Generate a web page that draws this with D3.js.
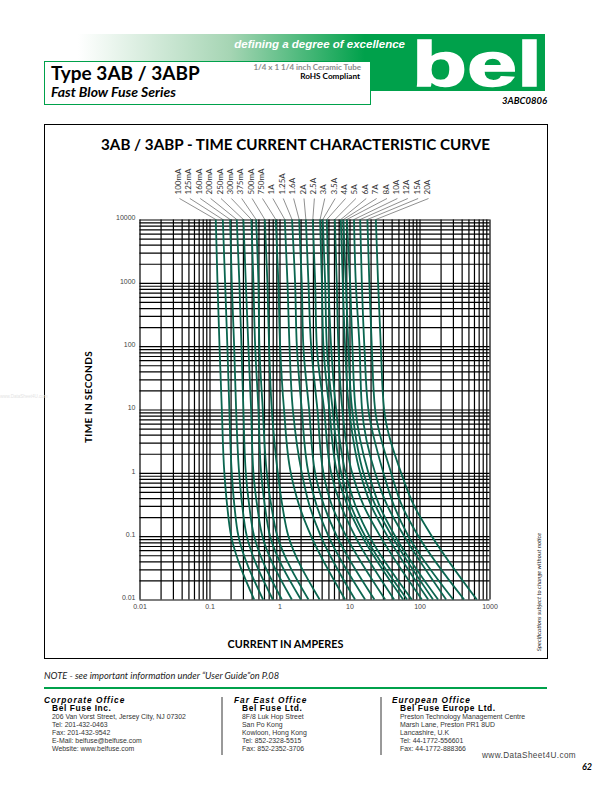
<!DOCTYPE html>
<html>
<head>
<meta charset="utf-8">
<script src="https://cdn.jsdelivr.net/npm/d3@7"></script>
<style>
  html, body { margin: 0; padding: 0; background: #fff; }
  svg { display: block; }
  text { font-family: Lato, "Open Sans", sans-serif; }
  .arial { font-family: "Liberation Sans", Arial, sans-serif; }
</style>
</head>
<body>
<div id="page"></div>
<script>
// fuse ratings, in the order they are labelled above the chart
var ratings = ["100mA","125mA","160mA","200mA","250mA","300mA","375mA","500mA","750mA","1A","1.25A","1.6A","2A","2.5A","3A","3.5A","4A","5A","6A","7A","8A","10A","12A","15A","20A"];

// blow times in seconds that the curves were read at
var times = [10000, 1000, 100, 10, 1, 0.3, 0.1, 0.01];

// current in amperes for each rating at those times
var at10000s = [0.123,0.155,0.197,0.245,0.305,0.397,0.463,0.617,0.885,1.19,1.51,1.91,2.38,2.99,3.80,4.15,4.74,6.17,7.51,8.18,9.15,11.6,14.2,18.0,23.8];
var at1000s  = [0.130,0.167,0.208,0.267,0.330,0.424,0.500,0.672,0.964,1.30,1.67,2.08,2.59,3.23,4.03,4.49,5.00,6.58,8.02,8.85,10.2,12.3,15.0,19.2,25.6];
var at100s   = [0.139,0.180,0.225,0.286,0.359,0.449,0.516,0.710,1.02,1.39,1.77,2.19,2.83,3.41,4.24,4.74,5.46,6.94,8.65,9.64,11.0,13.9,16.3,20.8,28.0];
var at10s    = [0.150,0.192,0.240,0.305,0.393,0.500,0.577,0.776,1.16,1.55,2.08,2.65,3.48,4.34,5.16,5.74,6.44,7.91,9.87,10.9,12.2,15.1,18.6,23.2,31.2];
var at1s     = [0.163,0.208,0.265,0.330,0.424,0.546,0.658,0.945,1.45,2.08,2.59,3.23,4.24,5.46,6.65,7.59,8.80,10.9,14.2,15.8,18.6,23.2,30.5,39.3,54.6];
var at03s    = [0.179,0.227,0.294,0.370,0.480,0.618,0.764,1.10,1.92,2.69,3.41,4.35,5.64,7.59,9.39,10.5,12.2,16.0,20.5,23.6,26.9,34.8,43.3,56.4,84.0];
var at01s    = [0.204,0.259,0.341,0.434,0.569,0.734,0.933,1.34,2.83,3.89,5.00,6.58,8.95,12.0,15.1,16.7,19.2,27.4,34.8,40.3,44.9,60.4,69.4,96.4,150];
var at001s   = [0.434,0.582,0.802,1.08,1.50,2.02,2.59,3.74,8.65,12.0,16.7,22.7,32.3,43.4,58.3,66.5,77.6,108,133,156,184,240,303,434,658];

var xTickValues = [0.01, 0.1, 1, 10, 100, 1000];
var yTickValues = [0.01, 0.1, 1, 10, 100, 1000, 10000];

var footerOffices = [
  { x: 44, textX: 52, head: "Corporate Office", name: "Bel Fuse Inc.", rows: ["206 Van Vorst Street, Jersey City, NJ 07302","Tel: 201-432-0463","Fax: 201-432-9542","E-Mail: belfuse@belfuse.com","Website: www.belfuse.com"] },
  { x: 234, textX: 242, head: "Far East Office", name: "Bel Fuse Ltd.", rows: ["8F/8 Luk Hop Street","San Po Kong","Kowloon, Hong Kong","Tel: 852-2328-5515","Fax: 852-2352-3706"] },
  { x: 392, textX: 400, head: "European Office", name: "Bel Fuse Europe Ltd.", rows: ["Preston Technology Management Centre","Marsh Lane, Preston PR1 8UD","Lancashire, U.K","Tel: 44-1772-556601","Fax: 44-1772-888366"] }
];

var green = "#00a14b";
var curveColor = "#0b6650";

var svgWidth = 612;
var svgHeight = 792;

var svg = d3.select("#page")
  .append("svg")
  .attr("width", svgWidth)
  .attr("height", svgHeight);

// header band
var grad = svg.append("defs").append("linearGradient").attr("id", "band");
grad.append("stop").attr("offset", "0%").attr("stop-color", "#fff");
grad.append("stop").attr("offset", "45%").attr("stop-color", "#a6d5b4");
grad.append("stop").attr("offset", "85%").attr("stop-color", green);
grad.append("stop").attr("offset", "100%").attr("stop-color", green);

svg.append("rect").attr("x", 78).attr("y", 34).attr("width", 337).attr("height", 27).attr("fill", "url(#band)");
svg.append("rect").attr("x", 371).attr("y", 61).attr("width", 44).attr("height", 30).attr("fill", green);
svg.append("rect").attr("x", 415).attr("y", 34).attr("width", 130).attr("height", 57).attr("fill", green);

svg.append("text").attr("x", 405).attr("y", 48).attr("text-anchor", "end")
  .attr("class", "arial").attr("fill", "#fff").attr("font-size", 11.5)
  .attr("font-weight", "bold").attr("font-style", "italic").text("defining a degree of excellence");

svg.append("text").attr("class", "arial").attr("x", 412).attr("y", 85.5)
  .attr("fill", "#fff").attr("stroke", "#fff").attr("stroke-width", 1.5)
  .attr("font-size", 63).attr("font-weight", "bold")
  .attr("textLength", 130).attr("lengthAdjust", "spacingAndGlyphs").text("bel");

// title box
svg.append("rect").attr("x", 44.5).attr("y", 61.5).attr("width", 326).attr("height", 43)
  .attr("fill", "#fff").attr("stroke", green).attr("stroke-width", 1);
svg.append("text").attr("x", 51).attr("y", 80).attr("font-size", 19).attr("font-weight", "bold").text("Type 3AB / 3ABP");
svg.append("text").attr("x", 51).attr("y", 97).attr("font-size", 14).attr("font-weight", "bold").attr("font-style", "italic").text("Fast Blow Fuse Series");
svg.append("text").attr("x", 361).attr("y", 70).attr("text-anchor", "end").attr("font-size", 8).attr("font-weight", "bold").attr("fill", "#8a8a8a").text("1/4 x 1 1/4 inch Ceramic Tube");
svg.append("text").attr("x", 360).attr("y", 79).attr("text-anchor", "end").attr("font-size", 8.2).attr("font-weight", "bold").text("RoHS Compliant");
svg.append("text").attr("x", 547).attr("y", 104).attr("text-anchor", "end").attr("font-size", 9.5).attr("font-weight", "bold").attr("font-style", "italic").text("3ABC0806");

// chart frame
svg.append("rect").attr("x", 44.5).attr("y", 124.5).attr("width", 503).attr("height", 534)
  .attr("fill", "none").attr("stroke", "#000").attr("stroke-width", 1);
svg.append("text").attr("x", 295.5).attr("y", 150).attr("text-anchor", "middle").attr("font-size", 15.2).attr("font-weight", "bold").text("3AB / 3ABP - TIME CURRENT CHARACTERISTIC CURVE");

var margin = { top: 219.5, left: 139.5 };
var chartWidth = 350;
var chartHeight = 380;

var chartGroup = svg.append("g")
  .attr("transform", `translate(${margin.left}, ${margin.top})`);

var xScale = d3.scaleLog().domain([0.01, 1000]).range([0, chartWidth]);
var yScale = d3.scaleLog().domain([0.01, 10000]).range([chartHeight, 0]);

// every decade gets 1..9 lines
var xGrid = [];
var yGrid = [];
xTickValues.forEach(function(d, i) {
  d3.range(1, i < xTickValues.length - 1 ? 10 : 2).forEach(function(m) { xGrid.push(d * m); });
});
yTickValues.forEach(function(d, i) {
  d3.range(1, i < yTickValues.length - 1 ? 10 : 2).forEach(function(m) { yGrid.push(d * m); });
});

var xGridAxis = d3.axisBottom(xScale).tickValues(xGrid).tickSize(-chartHeight).tickFormat("");
var yGridAxis = d3.axisLeft(yScale).tickValues(yGrid).tickSize(-chartWidth).tickFormat("");

chartGroup.append("g").attr("transform", `translate(0, ${chartHeight})`).call(xGridAxis)
  .call(g => g.select(".domain").remove())
  .selectAll("line").attr("stroke", "#000").attr("stroke-width", 1.2);
chartGroup.append("g").call(yGridAxis)
  .call(g => g.select(".domain").remove())
  .selectAll("line").attr("stroke", "#000").attr("stroke-width", 1.2);

// tick labels, drawn with separate axes
var xAxis = d3.axisBottom(xScale).tickValues(xTickValues).tickSize(0).tickPadding(5).tickFormat(d => String(d));
var yAxis = d3.axisLeft(yScale).tickValues(yTickValues).tickSize(0).tickPadding(4).tickFormat(d => String(d));

chartGroup.append("g").attr("transform", `translate(0, ${chartHeight})`).call(xAxis)
  .call(g => g.select(".domain").remove())
  .selectAll("text").attr("class", "arial").attr("font-size", 7).attr("fill", "#444");
chartGroup.append("g").attr("transform", "translate(0, -2)").call(yAxis)
  .call(g => g.select(".domain").remove())
  .selectAll("text").attr("class", "arial").attr("font-size", 7).attr("fill", "#444");

// curves
var levels = [at10000s, at1000s, at100s, at10s, at1s, at03s, at01s, at001s];
var line = d3.line()
  .x(d => xScale(d.current))
  .y(d => yScale(d.time))
  .curve(d3.curveMonotoneY);

chartGroup.selectAll(".fuseCurve")
  .data(ratings)
  .enter()
  .append("path")
  .attr("class", "fuseCurve")
  .attr("fill", "none")
  .attr("stroke", curveColor)
  .attr("stroke-width", 1.8)
  .attr("d", function(d, i) {
    return line(times.map((t, k) => ({ time: t, current: levels[k][i] })));
  });

// rating labels and their leader lines
var labelScale = d3.scalePoint().domain(ratings).range([178.5 - margin.left, 427.5 - margin.left]);

chartGroup.selectAll(".leader")
  .data(ratings)
  .enter()
  .append("line")
  .attr("class", "leader")
  .attr("x1", d => labelScale(d) + 1)
  .attr("y1", -21)
  .attr("x2", (d, i) => xScale(at10000s[i]))
  .attr("y2", 0)
  .attr("stroke", "#444")
  .attr("stroke-width", 0.6);

chartGroup.selectAll(".ratingLabel")
  .data(ratings)
  .enter()
  .append("text")
  .attr("class", "ratingLabel")
  .attr("transform", d => `translate(${labelScale(d) + 2.5}, -25) rotate(-90)`)
  .attr("font-size", 8)
  .attr("fill", "#333")
  .text(d => d);

// axis titles
svg.append("text").attr("transform", "translate(92, 397) rotate(-90)").attr("text-anchor", "middle")
  .attr("font-size", 10).attr("font-weight", "bold").attr("letter-spacing", 0.4).text("TIME IN SECONDS");
svg.append("text").attr("x", 285.5).attr("y", 648).attr("text-anchor", "middle")
  .attr("font-size", 10.8).attr("font-weight", "bold").text("CURRENT IN AMPERES");
svg.append("text").attr("transform", "translate(541, 592) rotate(-90)").attr("text-anchor", "middle")
  .attr("font-size", 6.1).attr("font-style", "italic").attr("fill", "#222").text("Specifications subject to change without notice");

// pale watermark on the left edge
svg.append("text").attr("class", "arial").attr("x", 0).attr("y", 398).attr("font-size", 4.5).attr("fill", "#e4e4e4").text("www.DataSheet4U.com");

// footer
svg.append("text").attr("x", 44).attr("y", 679).attr("font-size", 9.3).attr("font-style", "italic").attr("fill", "#222")
  .text("NOTE - see important information under \u201cUser Guide\u201don P.08");
svg.append("line").attr("x1", 44).attr("x2", 547).attr("y1", 688).attr("y2", 688).attr("stroke", green).attr("stroke-width", 2);

footerOffices.forEach(function(o) {
  svg.append("text").attr("class", "arial").attr("x", o.x).attr("y", 702.5).attr("font-size", 8.3)
    .attr("font-weight", "bold").attr("font-style", "italic").attr("letter-spacing", 1).text(o.head);
  svg.append("text").attr("class", "arial").attr("x", o.textX).attr("y", 711).attr("font-size", 8.4)
    .attr("font-weight", "bold").attr("letter-spacing", 0.6).text(o.name);
  o.rows.forEach(function(r, i) {
    svg.append("text").attr("class", "arial").attr("x", o.textX).attr("y", 719 + i * 8)
      .attr("font-size", 6.9).attr("fill", "#333").text(r);
  });
});
[222, 381].forEach(function(x) {
  svg.append("line").attr("x1", x).attr("x2", x).attr("y1", 697).attr("y2", 755).attr("stroke", "#000").attr("stroke-width", 0.8);
});

svg.append("text").attr("class", "arial").attr("x", 482).attr("y", 758).attr("font-size", 8.2).attr("fill", "#444").attr("letter-spacing", 0.4).text("www.DataSheet4U.com");
svg.append("text").attr("x", 592).attr("y", 770).attr("text-anchor", "end").attr("font-size", 9).attr("font-weight", "bold").attr("font-style", "italic").text("62");
</script>
</body>
</html>
